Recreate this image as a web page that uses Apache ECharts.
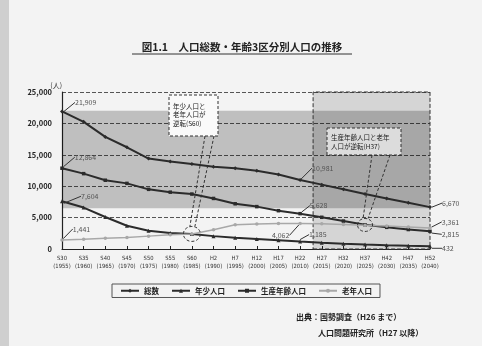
<!DOCTYPE html>
<html><head><meta charset="utf-8">
<script src="https://cdn.jsdelivr.net/npm/echarts@6/dist/echarts.min.js"></script>
<style>html,body{margin:0;padding:0;background:#f3f3f3}#c{width:482px;height:346px}</style>
</head><body><div id="c"></div>
<script>
const categories = ['S30','S35','S40','S45','S50','S55','S60','H2','H7','H12','H17','H22','H27','H32','H37','H42','H47','H52'];
const years = ['1955','1960','1965','1970','1975','1980','1985','1990','1995','2000','2005','2010','2015','2020','2025','2030','2035','2040'];
const seriesNames = ['総数','年少人口','生産年齢人口','老年人口'];
const total   = [21909,20250,17850,16200,14400,13950,13550,13100,12850,12450,11850,10981,10250,9500,8750,8050,7350,6670];
const young   = [7604,6600,5100,3700,2900,2550,2400,2050,1800,1600,1400,1185,1000,850,720,600,510,432];
const working = [12864,12000,10950,10450,9500,9050,8750,8050,7200,6750,6100,5628,5050,4450,3850,3450,3100,2815];
const elderly = [1441,1550,1700,1850,2050,2250,2400,3050,3850,4000,4050,4062,4020,3920,3800,3650,3500,3361];
const labelIdx = [0, 11, 17];
const estimateStart = 11.6;
const FONT = '"Noto Sans CJK JP", "Noto Sans", sans-serif';
const NARROW = '"Liberation Sans Narrow", "DejaVu Sans Condensed", sans-serif';

const chart = echarts.init(document.getElementById('c'), null, {renderer:'canvas'});
const fmt = v => Number(v).toLocaleString('en-US');

const offs = {
  0: {0:[6,-9,'right'], 11:[5,-12,'right'], 17:[5,-4,'right']},
  1: {0:[12,-5,'right'], 11:[2,-7,'right'], 17:[5,2,'right']},
  2: {0:[6,-11,'right'], 11:[3,-8,'right'], 17:[5,3,'right']},
  3: {0:[4,-11,'right'], 11:[-4,12,'left'], 17:[5,-6,'right']}
};

function build(arr, si) {
  return arr.map((v, i) => {
    const o = {value:[i, v]};
    if (labelIdx.includes(i)) {
      o.label = {show:true, position: offs[si][i][2], formatter: fmt(v), fontSize:7, color:'#555', fontFamily:FONT};
      o.labelLine = {show:true, lineStyle:{color:'#333', width:1}};
    }
    return o;
  });
}
function layoutFor(si) {
  return p => {
    const o = offs[si][p.dataIndex];
    return o ? {dx:o[0], dy:o[1]} : {};
  };
}

const dark = '#2b2b2b';
const mkSeries = (name, arr, si, symbol, color, width, size) => ({
  name, type:'line', data: build(arr, si), symbol, symbolSize:size, z:4,
  lineStyle:{color, width}, itemStyle:{color},
  labelLayout: layoutFor(si),
  label:{show:false}
});

const option = {
  backgroundColor:'#f3f3f3',
  animation:false,
  textStyle:{fontFamily:FONT},
  grid:{left:62, right:52, top:92, bottom:97},
  legend:{
    data: seriesNames, left:112, top:284, orient:'horizontal',
    itemWidth:18, itemHeight:5, itemGap:12,
    borderColor:'#555', borderWidth:1, padding:[3,8,3,8],
    textStyle:{fontSize:7.5, fontWeight:'bold', color:'#222', fontFamily:FONT}
  },
  xAxis:{
    type:'value', min:0, max:17, interval:1,
    axisLine:{show:true, lineStyle:{color:'#222', width:1.2}},
    axisTick:{show:true, inside:true, length:3, lineStyle:{color:'#222'}},
    splitLine:{show:false},
    axisLabel:{formatter: v => categories[v] + '\n(' + years[v] + ')', fontSize:5.8, color:'#333', lineHeight:8, margin:5, fontFamily:NARROW}
  },
  yAxis:{
    type:'value', min:0, max:25000, interval:5000,
    name:'(人)', nameLocation:'end', nameGap:2,
    nameTextStyle:{fontSize:7, color:'#333', align:'right', fontFamily:FONT},
    axisLine:{show:true, lineStyle:{color:'#222', width:1.2}},
    axisTick:{show:false},
    splitLine:{lineStyle:{type:'dashed', color:'#555', width:1}},
    axisLabel:{formatter: fmt, fontSize:7.5, fontWeight:'bold', color:'#222', margin:10, fontFamily:FONT}
  },
  series:[
    {type:'line', data:[], silent:true, z:1,
     markArea:{silent:true, data:[
       [{xAxis:0, yAxis:6500, itemStyle:{color:'rgba(0,0,0,0.21)'}}, {xAxis:17, yAxis:22000}],
       [{xAxis:estimateStart, yAxis:0, name:'推計値',
         itemStyle:{color:'rgba(0,0,0,0.12)', borderColor:'#333', borderType:'dashed', borderWidth:1},
         label:{show:true, position:'insideTopRight', distance:[6,4], fontSize:8, fontWeight:'bold', color:'#222', fontFamily:FONT}},
        {xAxis:17, yAxis:25000}]
     ]}},
    mkSeries(seriesNames[0], total, 0, 'diamond', dark, 2, 4),
    mkSeries(seriesNames[1], young, 1, 'triangle', dark, 2, 4),
    mkSeries(seriesNames[2], working, 2, 'rect', dark, 2, 3.5),
    mkSeries(seriesNames[3], elderly, 3, 'circle', '#a8a8a8', 1.5, 3.5)
  ]
};
chart.setOption(option);

const c1 = chart.convertToPixel({gridIndex:0}, [6, (young[6] + elderly[6]) / 2]);
const c2 = chart.convertToPixel({gridIndex:0}, [14, (working[14] + elderly[14]) / 2]);
const dashStroke = {stroke:'#333', lineWidth:1, lineDash:[3,2], fill:null};

chart.setOption({graphic:[
  {type:'rect', shape:{x:0, y:0, width:9, height:346}, style:{fill:'#cfcfcf'}, silent:true},
  {type:'text', silent:true, x:242, y:47, style:{text:'図1.1　人口総数・年齢3区分別人口の推移', fontSize:10.5, fontWeight:'bold', fontFamily:FONT, fill:'#222', textAlign:'center', textVerticalAlign:'middle'}},
  {type:'line', silent:true, shape:{x1:132, y1:54, x2:352, y2:54}, style:{stroke:'#333', lineWidth:1}},
  {type:'ellipse', silent:true, shape:{cx:c1[0], cy:c1[1], rx:8.5, ry:7.5}, style:dashStroke, z:10},
  {type:'line', silent:true, shape:{x1:205, y1:136, x2:c1[0]-2, y2:c1[1]-7.5}, style:dashStroke, z:10},
  {type:'line', silent:true, shape:{x1:214, y1:136, x2:c1[0]+3, y2:c1[1]-7.5}, style:dashStroke, z:10},
  {type:'rect', silent:true, shape:{x:169, y:95, width:49, height:41}, style:{fill:'#fafafa', stroke:'#333', lineWidth:1, lineDash:[3,2]}, z:10},
  {type:'text', silent:true, x:173, y:102, z:11, style:{text:'年少人口と\n老年人口が\n逆転(S60)', fontSize:6.5, lineHeight:8.5, fontFamily:FONT, fill:'#222'}},
  {type:'ellipse', silent:true, shape:{cx:c2[0], cy:c2[1], rx:7.5, ry:6.5}, style:dashStroke, z:10},
  {type:'line', silent:true, shape:{x1:372, y1:155, x2:c2[0]-2, y2:c2[1]-6.5}, style:dashStroke, z:10},
  {type:'line', silent:true, shape:{x1:390, y1:155, x2:c2[0]+3, y2:c2[1]-6.5}, style:dashStroke, z:10},
  {type:'rect', silent:true, shape:{x:327, y:128, width:74, height:27}, style:{fill:'#dcdcdc', stroke:'#333', lineWidth:1, lineDash:[3,2]}, z:10},
  {type:'text', silent:true, x:331, y:133, z:11, style:{text:'生産年齢人口と老年\n人口が逆転(H37)', fontSize:6.5, lineHeight:9, fontFamily:FONT, fill:'#222'}},
  {type:'text', silent:true, x:296, y:313, style:{text:'出典：国勢調査（H26 まで）', fontSize:8, fontWeight:'bold', fontFamily:FONT, fill:'#222'}},
  {type:'text', silent:true, x:318, y:329, style:{text:'人口問題研究所（H27 以降）', fontSize:8, fontWeight:'bold', fontFamily:FONT, fill:'#222'}}
]});
</script></body></html>
